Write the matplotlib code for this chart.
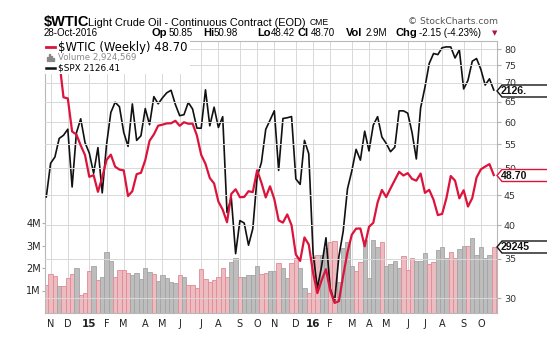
import matplotlib.pyplot as plt
import matplotlib.patches as mpatches
import numpy as np
import pandas as pd

# weekly closes, 31-Oct-2014 .. 28-Oct-2016
fechas = pd.date_range("2014-10-31", periods=105, freq="W-FRI")

wtic = [80.54, 78.65, 75.82, 76.51, 66.15, 65.84, 57.81, 57.13, 54.73, 52.69,
        48.36, 48.69, 45.59, 48.24, 51.69, 52.78, 50.34, 49.76, 49.61, 44.84,
        45.72, 48.87, 49.14, 51.64, 55.74, 57.15, 59.15, 59.39, 59.69, 59.72,
        60.30, 59.13, 59.96, 59.61, 59.63, 56.93, 52.74, 50.89, 48.14, 47.12,
        43.87, 42.50, 40.45, 45.22, 46.05, 44.63, 44.68, 45.70, 45.54, 49.63,
        47.26, 44.60, 46.59, 44.29, 40.74, 40.39, 41.71, 39.97, 35.62, 34.73,
        38.10, 37.04, 33.16, 30.60, 32.19, 33.62, 30.89, 29.44, 29.64, 32.78,
        35.92, 38.50, 39.44, 39.46, 36.79, 39.72, 40.36, 43.73, 45.92, 44.66,
        46.21, 47.75, 49.33, 48.62, 49.07, 47.98, 47.64, 48.99, 45.41, 45.95,
        44.19, 41.60, 41.80, 44.49, 48.52, 47.64, 44.44, 45.88, 43.03, 44.48,
        48.24, 49.81, 50.35, 50.85, 48.70]

spx = [1990.00, 2031.92, 2039.82, 2063.50, 2067.56, 2075.37, 2002.33, 2070.65, 2088.77, 2058.20,
       2044.81, 2019.42, 2051.82, 1994.99, 2055.47, 2096.99, 2110.30, 2104.50, 2071.26, 2053.40,
       2108.10, 2061.02, 2066.96, 2102.06, 2081.18, 2117.69, 2108.29, 2116.10, 2122.73, 2126.06,
       2107.39, 2092.83, 2094.11, 2109.99, 2101.49, 2076.78, 2076.62, 2126.64, 2079.65, 2103.84,
       2077.57, 2091.54, 1970.89, 1988.87, 1921.22, 1961.05, 1958.03, 1931.34, 1951.36, 2014.89,
       2033.11, 2075.15, 2087.00, 2099.20, 2023.04, 2089.17, 2090.11, 2091.69, 2012.37, 2005.55,
       2060.99, 2043.94, 1922.03, 1880.33, 1906.90, 1940.24, 1880.05, 1864.78, 1917.78, 1948.05,
       1999.99, 2022.19, 2049.58, 2035.94, 2072.78, 2047.60, 2080.73, 2091.58, 2065.30, 2057.14,
       2046.61, 2052.32, 2099.06, 2099.13, 2096.07, 2071.22, 2037.41, 2102.95, 2129.90, 2161.74,
       2175.03, 2173.60, 2182.87, 2184.05, 2183.87, 2169.04, 2179.98, 2127.81, 2139.16, 2164.69,
       2168.27, 2153.74, 2132.98, 2141.16, 2126.41]

# volume in millions
volumen = [1.24, 1.73, 1.66, 1.20, 1.20, 1.57, 1.73, 2.01, 0.80, 0.89,
           1.88, 2.09, 1.47, 1.60, 2.73, 2.31, 1.60, 1.93, 1.93, 1.79,
           1.69, 1.79, 1.53, 2.01, 1.84, 1.72, 1.42, 1.69, 1.57, 1.38,
           1.33, 1.69, 1.60, 1.24, 1.24, 1.13, 1.97, 1.53, 1.38, 1.48,
           1.60, 2.01, 1.60, 2.28, 2.43, 1.61, 1.61, 1.69, 1.69, 2.09,
           1.73, 1.76, 1.87, 1.88, 2.21, 1.99, 1.57, 2.21, 2.46, 2.01,
           1.13, 0.90, 2.50, 2.58, 2.58, 2.87, 3.17, 3.21, 1.36, 2.90,
           3.14, 2.10, 1.87, 2.25, 3.24, 1.54, 3.24, 2.95, 3.14, 2.10,
           2.16, 2.31, 2.01, 2.55, 1.91, 2.46, 2.31, 2.31, 2.68, 2.19,
           2.28, 2.80, 2.92, 2.43, 2.73, 2.43, 2.84, 2.98, 2.98, 3.35,
           2.60, 2.95, 2.45, 2.60, 2.924569]
# d = down week (pink bar), u = up week (grey bar)
sentido = ("dddudddudd" "duduuudddd" "uuuuuduuuu" "ududdddddd" "ddduuduuuu"
           "dduuduuddu" "uddduudduu" "uudduuuudu" "uuuddduuud" "duuudduudu" "uuuud")

ultimo_wtic = 48.70
ultimo_spx = 2126.41
ultimo_vol = 2924569

W, H = 547, 353
L, R, T, B = 45, 497, 41, 313


def fx(px):
    return px / W


def fy(py):
    return 1 - py / H


fig = plt.figure(figsize=(W / 100, H / 100), dpi=100)
ax = fig.add_axes([fx(L), fy(B), (R - L) / W, (B - T) / H])
axs = ax.twinx()
axp = ax.twinx()

x = np.arange(len(wtic))
relleno = ["#ecbcc1" if c == "d" else "#bdbdbd" for c in sentido]
borde = ["#e28a96" if c == "d" else "#a4a4a4" for c in sentido]
ax.bar(x, np.array(volumen) * 1e6, width=1.0, color=relleno, edgecolor=borde, linewidth=0.6)
ax.set_xlim(-0.3, len(wtic) - 0.25)
ax.set_ylim(0, (B - T) / 22.5 * 1e6)
ax.set_yticks([1e6, 2e6, 3e6, 4e6])
ax.set_yticklabels(["1M", "2M", "3M", "4M"])
ax.tick_params(axis="y", labelsize=7, length=2, pad=1, color="#b0b0b0", labelcolor="#222222")

# month ticks: first full week of every month
pos, etiq = [], []
for i, f in enumerate(fechas):
    if 5 <= f.day <= 11:
        pos.append(i)
        etiq.append(str(f.year)[2:] if f.month == 1 else "JFMAMJJASOND"[f.month - 1])
ax.set_xticks(pos)
ax.set_xticklabels(etiq)
for t in ax.get_xticklabels():
    t.set_fontsize(7)
    t.set_color("#222222")
    if t.get_text().isdigit():
        t.set_fontweight("bold")
        t.set_fontsize(7.5)
ax.tick_params(axis="x", length=0, pad=4)
ax.grid(True, axis="x", color="#d8d8d8", linewidth=0.7)
ax.set_axisbelow(True)
for s in ax.spines.values():
    s.set_color("#b8b8b8")
    s.set_linewidth(0.8)

# S&P overlay on its own log scale
axs.plot(x, spx, color="#111111", linewidth=1.2)
axs.set_yscale("log")
axs.set_ylim(ultimo_spx * np.exp(-(B - 90) / 1613), ultimo_spx * np.exp((90 - T) / 1613))
axs.set_yticks([])
axs.minorticks_off()
axs.tick_params(axis="y", which="both", right=False, labelright=False)

# crude price, log scale on the right
axp.plot(x, wtic, color="#dc143c", linewidth=1.6)
axp.set_yscale("log")
axp.set_ylim(80 * np.exp(-(B - 49) / 254), 80 * np.exp((49 - T) / 254))
niveles = list(range(30, 85, 5))
axp.set_yticks(niveles)
axp.set_yticklabels([str(n) for n in niveles])
axp.minorticks_off()
axp.tick_params(axis="y", labelsize=6.8, length=3, pad=2, color="#b0b0b0", labelcolor="#333333")
axp.grid(True, axis="y", color="#d8d8d8", linewidth=0.7)
for a in (axs, axp):
    for s in a.spines.values():
        s.set_visible(False)

# white legend box top-left
axp.add_patch(mpatches.Rectangle((0, (B - 74) / (B - T)), (190 - L) / (R - L), 1 - (B - 74) / (B - T),
                                 transform=axp.transAxes, facecolor="white", edgecolor="none", zorder=5))

# header
fig.text(fx(44), fy(22), "$WTIC", fontsize=10.5, fontweight="bold", family="Liberation Sans", va="center")
fig.text(fx(88), fy(22.5), "Light Crude Oil - Continuous Contract (EOD)", fontsize=7.9,
         family="Liberation Sans", va="center")
fig.text(fx(310), fy(22.5), "CME", fontsize=6.2, family="Liberation Sans", va="center")
fig.text(fx(498), fy(22), "\u00a9 StockCharts.com", fontsize=6.6, color="#555555", ha="right", va="center")

fila = 33.5
fig.text(fx(44), fy(fila), "28-Oct-2016", fontsize=7, family="Liberation Sans", va="center")
piezas = [(152, "Op", True), (169, "50.85", False), (203, "Hi", True), (214, "50.98", False),
          (257, "Lo", True), (271, "48.42", False), (298, "Cl", True), (311, "48.70", False),
          (346, "Vol", True), (366, "2.9M", False), (396, "Chg", True), (419, "-2.15 (-4.23%)", False)]
for px_, txt, negrita in piezas:
    fig.text(fx(px_), fy(fila), txt, fontsize=8 if negrita else 7, family="Liberation Sans",
             fontweight="bold" if negrita else "normal", va="center")
fig.text(fx(494.5), fy(fila), "\u25bc", fontsize=5, color="#b0143c", ha="center", va="center")

# legend
fig.add_artist(plt.Line2D([fx(46), fx(55)], [fy(47), fy(47)], color="#dc143c", linewidth=2))
fig.text(fx(58), fy(47), "$WTIC (Weekly) %.2f" % ultimo_wtic, fontsize=8.4, va="center")
for k, hh in enumerate([4, 7, 5, 3]):
    fig.add_artist(mpatches.Rectangle((fx(47 + 2 * k), fy(61)), 1.3 / W, hh / H, color="#888888"))
fig.text(fx(58), fy(57.5), "Volume {:,}".format(ultimo_vol), fontsize=6.2, color="#8a8a8a", va="center")
fig.add_artist(plt.Line2D([fx(46), fx(55)], [fy(68), fy(68)], color="#111111", linewidth=1.8))
fig.text(fx(58), fy(68), "$SPX %.2f" % ultimo_spx, fontsize=6.4, va="center")


# value tags on the right edge (text cut to 5 characters, like the source)
def etiqueta(yc, texto, color_borde):
    x0, h = 497, 6
    pts = [(x0, yc), (x0 + 5, yc - h), (W + 5, yc - h), (W + 5, yc + h), (x0 + 5, yc + h)]
    fig.add_artist(mpatches.Polygon([(fx(a), fy(b)) for a, b in pts], closed=True,
                                    facecolor="white", edgecolor=color_borde, linewidth=1.0))
    fig.text(fx(501), fy(yc), texto[:5], fontsize=7.6, fontweight="bold", family="Liberation Sans",
             va="center", color="#111111")


etiqueta(91, "%.2f" % ultimo_spx, "#111111")
etiqueta(175.5, "%.2f" % ultimo_wtic, "#dc143c")
etiqueta(247, str(ultimo_vol), "#111111")

fig.savefig("out.png", dpi=100)
